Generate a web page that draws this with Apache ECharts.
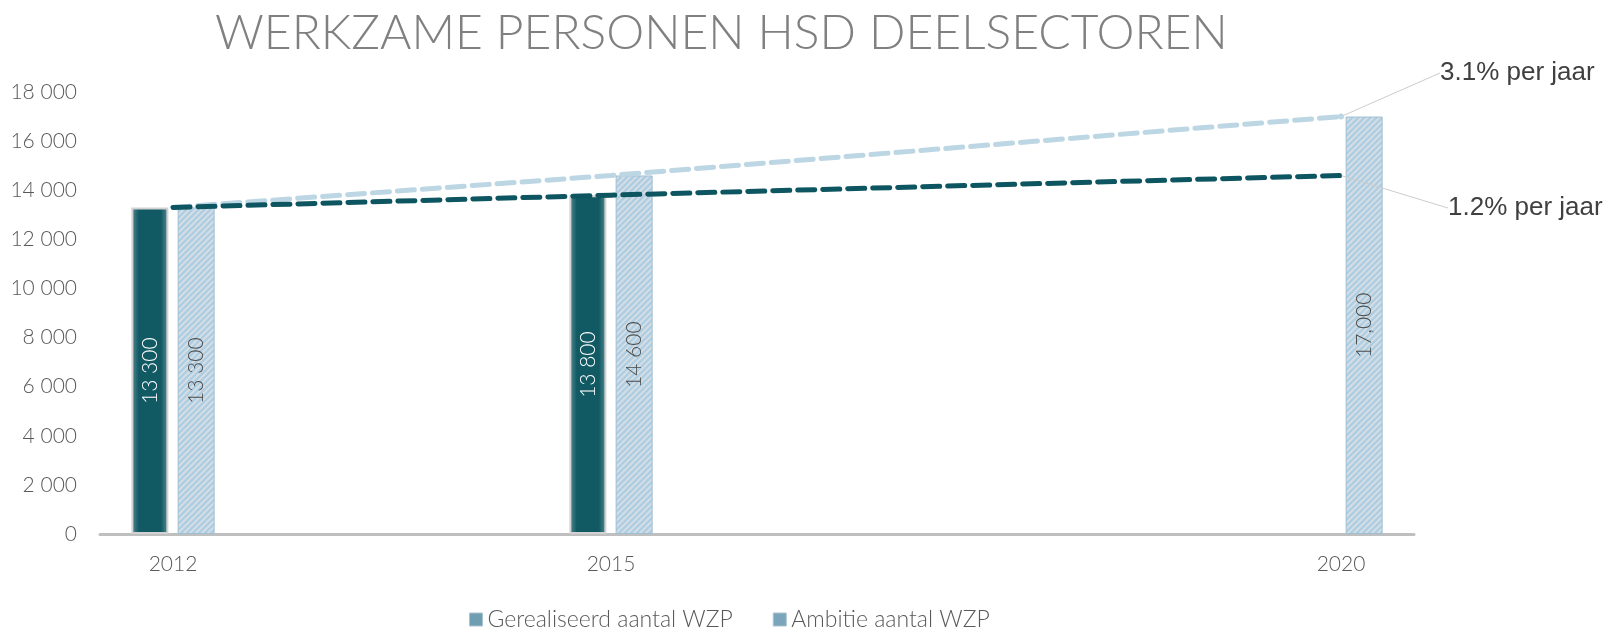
<!DOCTYPE html>
<html lang="nl">
    <head>
        <title>Werkzame personen HSD deelsectoren</title>
        <meta charset="utf-8">
        <script src='https://cdn.jsdelivr.net/npm/echarts@6/dist/echarts.min.js'></script>
    </head>

    <style>
        html, body, #main {
            width: 100%;
            height: 100%;
            margin: 0;
            background: #fff;
        }
    </style>

    <body>
        <div id='main'></div>

        <script>
            // data
            const years = ['2012', '2013', '2014', '2015', '2016', '2017', '2018', '2019', '2020'];
            const shownYears = ['2012', '2015', '2020'];
            const gerealiseerd = [13300, null, null, 13800, null, null, null, null, null];
            const ambitie = [13300, null, null, 14600, null, null, null, null, 17000];
            const trendAmbitie = [13300, null, null, 14600, null, null, null, null, 17000];
            const trendGerealiseerd = [13300, null, null, 13800, null, null, null, null, 14600];
            const trendLabels = ['3.1% per jaar', '1.2% per jaar'];

            const font = 'Lato';
            const spaced = v => String(v).replace(/\B(?=(\d{3})+(?!\d))/g, ' ');

            // diagonal hatch for the ambitie bars
            const hatch = document.createElement('canvas');
            hatch.width = hatch.height = 6;
            const g = hatch.getContext('2d');
            g.fillStyle = '#d9dfe3';
            g.fillRect(0, 0, 6, 6);
            g.strokeStyle = '#aecee4';
            g.lineWidth = 2.6;
            g.beginPath();
            g.moveTo(0, 6); g.lineTo(6, 0);
            g.moveTo(-3, 3); g.lineTo(3, -3);
            g.moveTo(3, 9); g.lineTo(9, 3);
            g.stroke();

            const lastPoint = (arr, text) => arr.map((v, i) => {
                if (v === null) return null;
                if (i !== arr.length - 1) return { value: v, symbol: 'none' };
                return { value: v, label: { show: true, formatter: text } };
            });

            const chart = echarts.init(document.getElementById('main'));

            const option = {
                animation: false,
                title: {
                    text: 'WERKZAME PERSONEN HSD DEELSECTOREN',
                    left: 210,
                    top: 5,
                    textStyle: {
                        fontFamily: font,
                        fontWeight: 300,
                        fontSize: 48,
                        color: '#808080'
                    }
                },
                legend: {
                    left: 464,
                    top: 603,
                    itemWidth: 13,
                    itemHeight: 13,
                    itemGap: 40,
                    itemTextGap: 4,
                    icon: 'rect',
                    textStyle: { fontFamily: font, fontWeight: 300, fontSize: 23, color: '#595959' },
                    data: [
                        { name: 'Gerealiseerd aantal WZP', itemStyle: { color: '#6f9db2', borderColor: '#a9c3cf', borderWidth: 1 } },
                        { name: 'Ambitie aantal WZP', itemStyle: { color: '#7aa5bb', borderColor: '#a9c3cf', borderWidth: 1 } }
                    ]
                },
                grid: { left: 100, right: 205, top: 92, bottom: 96 },
                xAxis: {
                    type: 'category',
                    data: years,
                    axisLine: { lineStyle: { color: '#bfbfbf', width: 3 } },
                    axisTick: { show: false },
                    axisLabel: {
                        interval: 0,
                        margin: 20,
                        fontFamily: font,
                        fontWeight: 300,
                        fontSize: 21,
                        color: '#595959',
                        formatter: v => shownYears.includes(v) ? v : ''
                    }
                },
                yAxis: {
                    type: 'value',
                    min: 0,
                    max: 18000,
                    interval: 2000,
                    splitLine: { show: false },
                    axisLine: { show: false },
                    axisLabel: {
                        margin: 23,
                        fontFamily: font,
                        fontWeight: 300,
                        fontSize: 21,
                        color: '#595959',
                        formatter: spaced
                    }
                },
                series: [
                    {
                        name: 'Gerealiseerd aantal WZP',
                        type: 'bar',
                        barWidth: 37,
                        barGap: '25%',
                        data: gerealiseerd,
                        itemStyle: {
                            color: new echarts.graphic.LinearGradient(0, 0, 1, 0, [
                                { offset: 0, color: '#5a8c94' },
                                { offset: 0.2, color: '#115a64' },
                                { offset: 0.8, color: '#115a64' },
                                { offset: 1, color: '#5a8c94' }
                            ]),
                            borderColor: '#d2d2d2',
                            borderWidth: 2
                        },
                        label: {
                            show: true,
                            position: 'inside',
                            rotate: 90,
                            fontFamily: font,
                            fontWeight: 300,
                            fontSize: 21,
                            color: '#ffffff',
                            formatter: p => spaced(p.value)
                        }
                    },
                    {
                        name: 'Ambitie aantal WZP',
                        type: 'bar',
                        barWidth: 37,
                        data: ambitie,
                        itemStyle: {
                            color: { image: hatch, repeat: 'repeat' },
                            borderColor: '#9fbfd3',
                            borderWidth: 1
                        },
                        label: {
                            show: true,
                            position: 'inside',
                            rotate: 90,
                            fontFamily: font,
                            fontWeight: 300,
                            fontSize: 21,
                            color: '#4a4a4a',
                            formatter: p => p.dataIndex === years.length - 1
                                ? p.value.toLocaleString('en-US')
                                : spaced(p.value)
                        }
                    },
                    {
                        name: 'trend ambitie',
                        type: 'line',
                        data: lastPoint(trendAmbitie, trendLabels[0]),
                        connectNulls: true,
                        symbol: 'circle',
                        symbolSize: 6,
                        itemStyle: { color: '#bcd6e4' },
                        lineStyle: { color: '#bcd6e4', width: 5, type: [17, 8], cap: 'round' },
                        label: { fontFamily: 'Liberation Sans', fontSize: 26, color: '#404040' },
                        labelLayout: { x: 1440, y: 73, align: 'left', verticalAlign: 'middle' },
                        labelLine: { show: true, length2: 0, lineStyle: { color: '#cccccc', width: 1 } },
                        z: 5
                    },
                    {
                        name: 'trend gerealiseerd',
                        type: 'line',
                        data: lastPoint(trendGerealiseerd, trendLabels[1]),
                        connectNulls: true,
                        symbol: 'circle',
                        symbolSize: 1,
                        itemStyle: { color: '#0d5560' },
                        lineStyle: { color: '#0d5560', width: 5, type: [17, 8], cap: 'round' },
                        label: { fontFamily: 'Liberation Sans', fontSize: 26, color: '#404040' },
                        labelLayout: { x: 1448, y: 208, align: 'left', verticalAlign: 'middle' },
                        labelLine: { show: true, length2: 0, lineStyle: { color: '#cccccc', width: 1 } },
                        z: 5
                    }
                ]
            };

            chart.setOption(option);

            window.onresize = function () {
                chart.resize();
            }
        </script>
    </body>
</html>
